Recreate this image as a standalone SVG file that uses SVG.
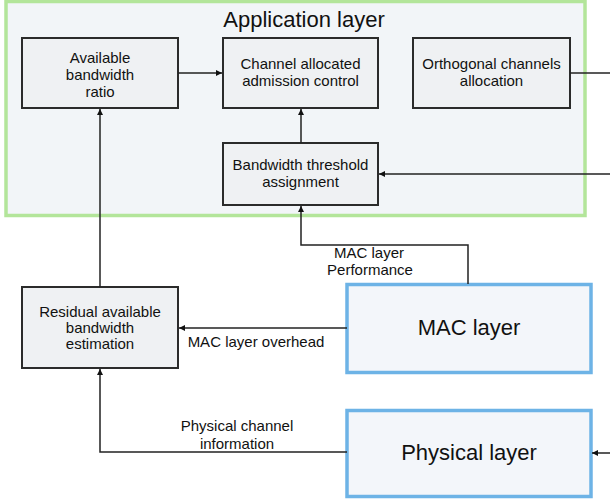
<svg xmlns="http://www.w3.org/2000/svg" width="610" height="502" viewBox="0 0 610 502">
<style>
text{font-family:"Liberation Sans",Arial,sans-serif;fill:#111;text-anchor:middle}
.box{fill:#eff1f3;stroke:#2b2b2b;stroke-width:2}
.lay{fill:#f3f6fa;stroke:#6db3e6;stroke-width:3.5}
.lbl{font-size:15px}
.big{font-size:22px}
.con{fill:none;stroke:#222;stroke-width:1.5}
</style>
<defs>
<marker id="ah" viewBox="0 0 8 8" refX="8" refY="4" markerWidth="6" markerHeight="6" orient="auto" markerUnits="userSpaceOnUse">
<path d="M0,0 L8,4 L0,8 z" fill="#111"/>
</marker>
</defs>
<rect width="610" height="502" fill="#ffffff"/>
<g id="application-layer">
<rect x="6" y="1.5" width="579" height="214" fill="#f2f5f8" stroke="#b3e59a" stroke-width="3.5"/>
<text x="304" y="27" class="big">Application layer</text>
</g>
<g id="available-bandwidth-ratio">
<rect class="box" x="22" y="38" width="156" height="70"/>
<text class="lbl" x="100" y="63">Available</text>
<text class="lbl" x="100" y="80">bandwidth</text>
<text class="lbl" x="100" y="97">ratio</text>
</g>
<g id="channel-allocated">
<rect class="box" x="223" y="38" width="155" height="70"/>
<text class="lbl" x="300.5" y="69">Channel allocated</text>
<text class="lbl" x="300.5" y="86">admission control</text>
</g>
<g id="orthogonal">
<rect class="box" x="413" y="38" width="157" height="70"/>
<text class="lbl" x="491.5" y="69">Orthogonal channels</text>
<text class="lbl" x="491.5" y="86">allocation</text>
</g>
<g id="bandwidth-threshold">
<rect class="box" x="223" y="143" width="155" height="62"/>
<text class="lbl" x="300.5" y="170">Bandwidth threshold</text>
<text class="lbl" x="300.5" y="187">assignment</text>
</g>
<g id="residual">
<rect class="box" x="22" y="287" width="156" height="81"/>
<text class="lbl" x="100" y="317">Residual available</text>
<text class="lbl" x="100" y="333">bandwidth</text>
<text class="lbl" x="100" y="349">estimation</text>
</g>
<g id="mac-layer">
<rect class="lay" x="347" y="284.5" width="244" height="88"/>
<text class="big" x="469" y="335">MAC layer</text>
</g>
<g id="physical-layer">
<rect class="lay" x="347" y="410.5" width="244" height="86"/>
<text class="big" x="469" y="460">Physical layer</text>
</g>
<g id="connectors">
<line class="con" x1="178" y1="73" x2="222" y2="73" marker-end="url(#ah)"/>
<line class="con" x1="570" y1="73" x2="610" y2="73"/>
<line class="con" x1="610" y1="174" x2="379" y2="174" marker-end="url(#ah)"/>
<line class="con" x1="301" y1="143" x2="301" y2="109" marker-end="url(#ah)"/>
<polyline class="con" points="468,284 468,245 301,245 301,206" marker-end="url(#ah)"/>
<line class="con" x1="100" y1="287" x2="100" y2="109" marker-end="url(#ah)"/>
<line class="con" x1="347" y1="328" x2="179" y2="328" marker-end="url(#ah)"/>
<polyline class="con" points="347,452 100,452 100,369" marker-end="url(#ah)"/>
<line class="con" x1="610" y1="453" x2="592" y2="453" marker-end="url(#ah)"/>
<text class="lbl" x="369" y="258">MAC layer</text>
<text class="lbl" x="370" y="275">Performance</text>
<text class="lbl" x="256" y="347">MAC layer overhead</text>
<text class="lbl" x="237" y="431">Physical channel</text>
<text class="lbl" x="237" y="448.5">information</text>
</g>
</svg>
